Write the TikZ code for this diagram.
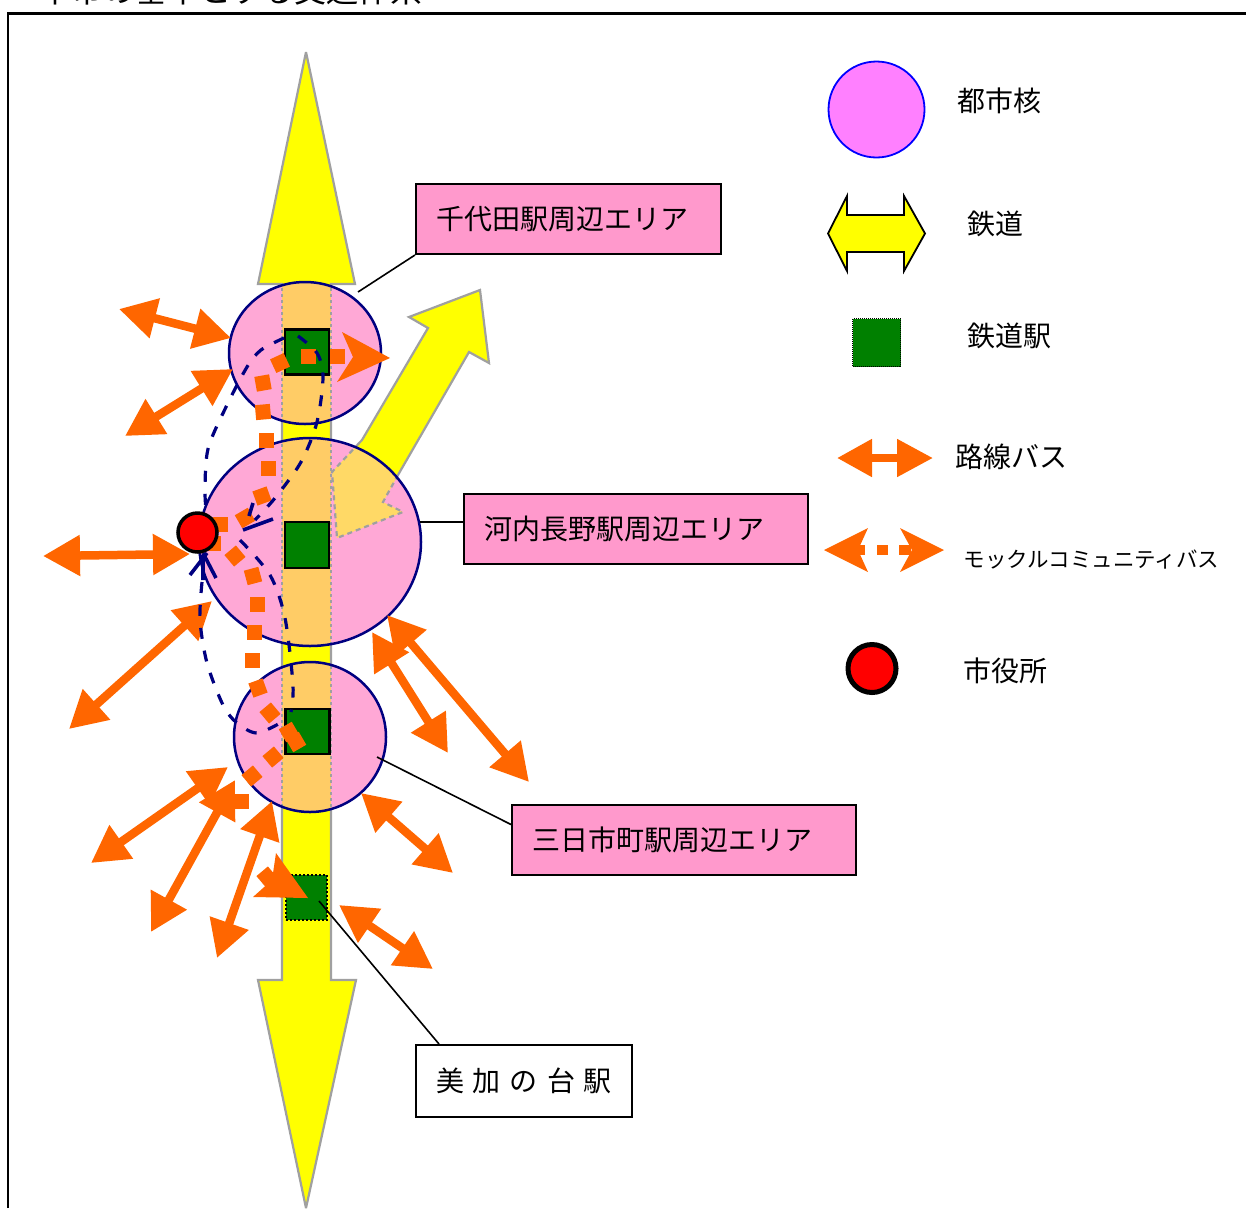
\documentclass[tikz,border=0pt]{standalone}
\usepackage{fontspec}
\setmainfont{Noto Sans CJK JP}
\usetikzlibrary{shapes, arrows.meta, positioning}
\definecolor{areapink}{HTML}{FF99CC}
\definecolor{corepink}{HTML}{FFA8D6}
\definecolor{bandorange}{HTML}{FFCC66}
\definecolor{paleyellow}{HTML}{FFD966}
\definecolor{keypink}{HTML}{FF80FF}
\definecolor{busorange}{HTML}{FF6600}
\definecolor{stationgreen}{HTML}{008000}
\definecolor{railgray}{HTML}{A0A0A0}
\definecolor{routenavy}{HTML}{000080}
\definecolor{railyellow}{HTML}{FFFF00}
\definecolor{hallred}{HTML}{FF0000}
\definecolor{keyblue}{HTML}{0000FF}
\newcommand{\labelfont}{\fontsize{28}{32}\selectfont}
\newcommand{\smallkeyfont}{\fontsize{21.5}{24}\selectfont}
\tikzstyle{every node}=[font=\labelfont]
\tikzstyle{areabox}=[draw,fill=areapink,rectangle,line width=2pt,inner xsep=20pt,inner ysep=0pt,minimum height=70pt,align=left]
\tikzstyle{railarrow}=[draw=railgray,fill=railyellow,line width=2.2pt,miter limit=4]
\tikzstyle{station}=[draw,fill=stationgreen,rectangle,line width=2.5pt,minimum width=44pt,minimum height=45pt,inner sep=0pt]
\tikzstyle{halt}=[fill=stationgreen,rectangle,inner sep=0pt,draw,dotted,line width=2pt]
\tikzstyle{busline}=[draw=busorange,line width=8.5pt,{Triangle[length=37pt,width=39pt]}-{Triangle[length=37pt,width=39pt]}]
\tikzstyle{busdot}=[fill=busorange,rectangle,minimum size=15pt,inner sep=0pt]
\tikzstyle{route}=[draw=routenavy,line width=3.2pt,dash pattern=on 11pt off 12pt]
\tikzstyle{leader}=[draw,line width=1.6pt]
\begin{document}
\begin{tikzpicture}[x=1pt,y=-1pt]
  \useasboundingbox (0,0) rectangle (1246,1208);
  \node[anchor=base west,inner sep=0pt,font=\fontsize{32}{36}\selectfont] (title) at (39,2) {本市の基本とする交通体系};
  \coordinate (frameleft) at (8,1208);
  \coordinate (framecorner) at (8,13.5);
  \coordinate (frameright) at (1246,13.5);
  \draw[line width=2.2pt] (frameleft) -- (framecorner) -- (frameright);
  % rail line and branch
  \draw[railarrow] (480,290) -- (489,363) -- (469,352) -- (398,475) -- (383,502) -- (403,512)
    -- (337,538) -- (332,472) -- (362,440) -- (428,328) -- (409,317) -- cycle;
  \draw[railarrow] (306,52) -- (355,284) -- (331,284) -- (331,980) -- (356,980) -- (306,1208)
    -- (258,980) -- (282,980) -- (282,284) -- (258,284) -- cycle;
  % areas
  \foreach \n/\cx/\cy/\rx/\ry in {1/305/353/76/71,2/310/542/111/104,3/310/737/76/75}{
    \fill[corepink] (\cx,\cy) ellipse ({\rx} and {\ry});
    \begin{scope}
      \clip (\cx,\cy) ellipse ({\rx} and {\ry});
      \fill[bandorange] (282,0) rectangle (331,1208);
      \ifnum\n=2
        \draw[fill=paleyellow,draw=railgray,line width=2.2pt,dash pattern=on 5pt off 4pt] (398,475) -- (383,502) -- (403,512)
          -- (337,538) -- (332,472) -- (362,440) -- (428,328) -- (469,352) -- cycle;
      \fi
      \draw[railgray,line width=2.2pt,dash pattern=on 3pt off 3pt] (282,0) -- (282,1208) (331,0) -- (331,1208);
    \end{scope}
    \draw[routenavy,line width=2.5pt] (\cx,\cy) ellipse ({\rx} and {\ry});
  }
  % stations
  \node[station] (st1) at (307,352) {};
  \node[station,minimum height=46pt] (st2) at (307,545) {};
  \node[station] (st3) at (307.5,731.5) {};
  \node[halt,minimum width=41pt,minimum height=45pt] (st4) at (306.5,897.5) {};
  % route bus
  \foreach \n/\ax/\ay/\bx/\by in {1/119/309/231/338,2/125/436/233/369,3/43/556/190/554,4/212/601/69/729,
    5/372/632/448/753,6/387/615/529/782,7/361/793/453/873,8/228/767/91/863,9/235/780/151/932,
    10/272/801/217/958,11/339/905/433/969}{
    \coordinate (bus\n a) at (\ax,\ay);
    \coordinate (bus\n b) at (\bx,\by);
    \draw[busline] (bus\n a) -- (bus\n b);
  }
  % community bus
  \foreach \n/\dx/\dy/\r in {1/308/356/0,2/337/356/0,3/280/363/25,4/263/383/10,5/263/412/5,6/266/440/0,7/268/468/0,
    8/262/496/20,9/245/518/30,10/220/524/0,11/213/543/0,12/235/556/40,13/253/576/15,14/257/604/0,15/254/632/0,
    16/252/660/0,17/258/688/20,18/270/713/40,19/289/732/30,20/296/742/30,21/273/757/40,22/252/776/40,23/241/801/0,24/267/877/40}{
    \node[busdot,rotate=\r] (dot\n) at (\dx,\dy) {};
  }
  \fill[busorange] (390,358) -- (337,382) -- (353,357) -- (342,332) -- cycle;
  \fill[busorange] (308,898) -- (253,897) -- (272,880) -- (276,853) -- cycle;
  \draw[route] plot[smooth] coordinates {(284,338) (261,350) (247,367) (226,407) (208,449) (205,492) (207,520)};
  \draw[route] plot[smooth] coordinates {(202,582) (200,620) (207,663) (223,705) (237,723) (257,733) (282,722)};
  \draw[route] plot[smooth] coordinates {(298,336) (317,353) (323,377) (317,422) (301,462) (275,498) (255,520)};
  \draw[route] plot[smooth] coordinates {(240,540) (270,575) (285,618) (293,685) (291,712)};
  \draw[routenavy,line width=3.6pt] (243,530) -- (273,519) (253,503) -- (249,516) (190,575) -- (207,553) (203,553) -- (216,578) (203,555) -- (203,580);
  \node[circle,draw,fill=hallred,line width=3.5pt,minimum size=39pt,inner sep=0pt] (cityhall) at (197.5,532.5) {};
  % labels
  \node[areabox,text width=265pt] (chiyodabox) at (568.5,219) {千代田駅周辺エリア};
  \node[areabox,text width=304pt] (kawachibox) at (636,529) {河内長野駅周辺エリア};
  \node[areabox,text width=304pt] (mikkabox) at (684,839.5) {三日市町駅周辺エリア};
  \node[areabox,fill=white,text width=176pt,minimum height=72pt] (mikanobox) at (524,1081) {\spaceskip=9pt 美 加 の 台 駅};
  \coordinate (tie1) at (358,292);
  \coordinate (tie2) at (420,522);
  \coordinate (tie3) at (377,757);
  \coordinate (tie4) at (319,901);
  \draw[leader] (chiyodabox.south west) -- (tie1);
  \draw[leader] (kawachibox.west |- tie2) -- (tie2);
  \draw[leader] ([yshift=15pt]mikkabox.west) -- (tie3);
  \draw[leader] ([xshift=24pt]mikanobox.north west) -- (tie4);
  % legend
  \node[circle,draw=keyblue,fill=keypink,line width=1.8pt,minimum size=96pt,inner sep=0pt] (keycore) at (876.5,109.5) {};
  \draw[fill=railyellow,line width=1.8pt] (828,233.5) -- (847,196) -- (847,215) -- (904,215) -- (904,196) -- (925,233.5)
    -- (904,271) -- (904,252) -- (847,252) -- (847,271) -- cycle;
  \node[halt,line width=1pt,densely dotted,minimum size=48pt] (keystation) at (876.5,342.5) {};
  \coordinate (keybusa) at (837,458);
  \coordinate (keybusb) at (933,458);
  \draw[busline,line width=8pt,{Triangle[length=35pt,width=36pt]}-{Triangle[length=36pt,width=36pt]}] (keybusa) -- (keybusb);
  \foreach \n/\dx/\w in {1/861/8,2/882.5/11,3/905/12}{
    \node[fill=busorange,rectangle,inner sep=0pt,minimum width=\w pt,minimum height=10pt] (keydot\n) at (\dx,550) {};
  }
  \fill[busorange] (824,550) -- (868,528) -- (858,550) -- (868,572) -- cycle;
  \fill[busorange] (944,550) -- (900,572) -- (912,550) -- (900,528) -- cycle;
  \node[circle,draw,fill=hallred,line width=5pt,minimum size=48pt,inner sep=0pt] (keyhall) at (872,668.5) {};
  \node[anchor=west,inner sep=0pt] (keycoretext) at (957.5,101) {都市核};
  \node[anchor=west,inner sep=0pt] (keyrailtext) at (967.5,224) {鉄道};
  \node[anchor=west,inner sep=0pt] (keystationtext) at (967.5,336) {鉄道駅};
  \node[anchor=west,inner sep=0pt] (keybustext) at (955,457) {路線バス};
  \node[anchor=west,inner sep=0pt,font=\smallkeyfont] (keycommtext) at (963.5,560) {モックルコミュニティバス};
  \node[anchor=west,inner sep=0pt] (keyhalltext) at (963.5,671) {市役所};
\end{tikzpicture}
\end{document}
